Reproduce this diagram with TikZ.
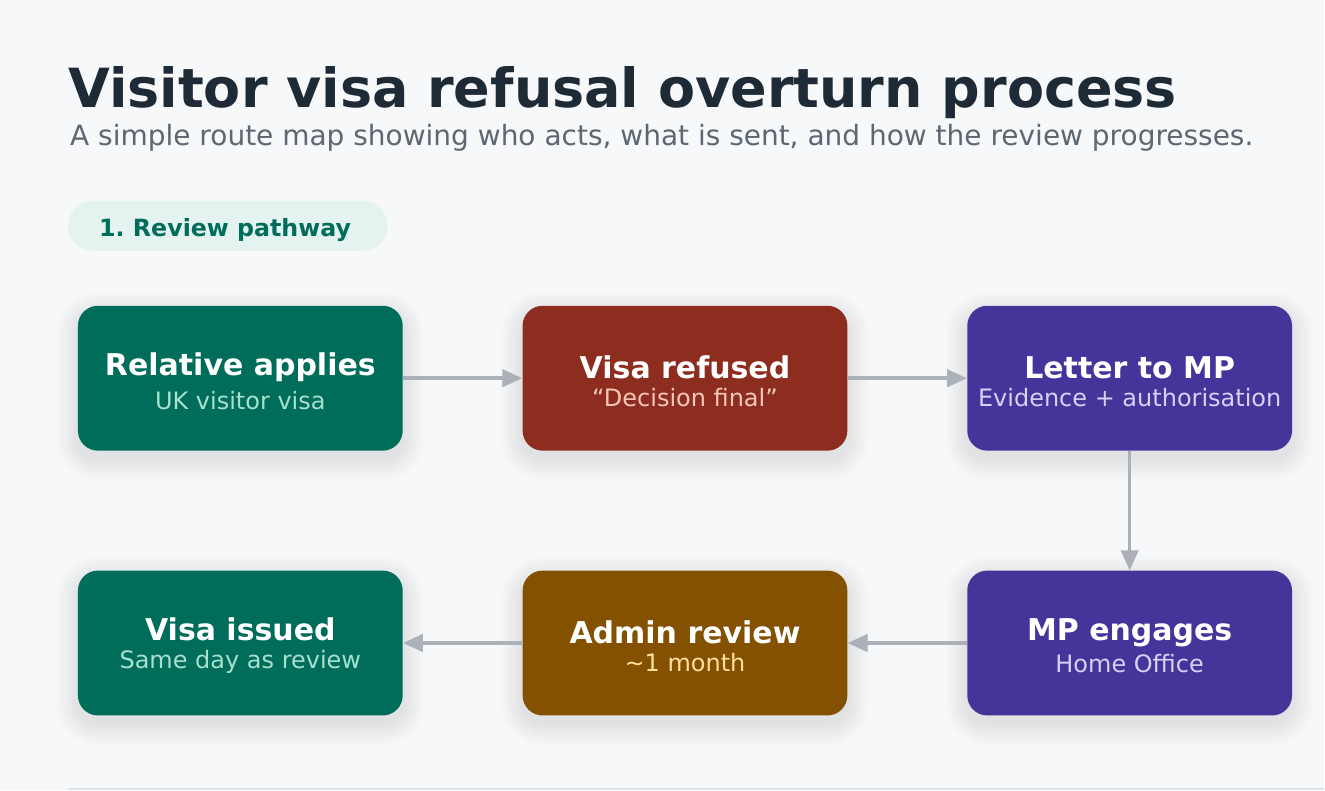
\documentclass[tikz,border=0pt]{standalone}
\usepackage{fontspec}
\setmainfont{DejaVu Sans}
\usetikzlibrary{arrows.meta,calc}
\pgfdeclarelayer{base}
\pgfdeclarelayer{shadow}
\pgfsetlayers{base,shadow,main}
\definecolor{bg}{HTML}{F7F8FA}
\definecolor{titlec}{HTML}{1F2A37}
\definecolor{subc}{HTML}{5C6772}
\definecolor{teal}{HTML}{006D5B}
\definecolor{tealsub}{HTML}{A8E0CF}
\definecolor{redb}{HTML}{8C2D1F}
\definecolor{redsub}{HTML}{F6C7B9}
\definecolor{purp}{HTML}{45349A}
\definecolor{purpsub}{HTML}{D8D1F6}
\definecolor{brown}{HTML}{845100}
\definecolor{brownsub}{HTML}{FFDFA0}
\definecolor{badgebg}{HTML}{E5F3F0}
\definecolor{arrowc}{HTML}{AAB1B8}
\definecolor{linec}{HTML}{DDE3EA}
\tikzset{
  stepbox/.style={rounded corners=20*0.75pt, minimum width=325*0.75pt, minimum height=145*0.75pt, inner sep=0pt},
  boxtitle/.style={anchor=base, text=white, font=\bfseries\fontsize{22.5}{26}\selectfont, inner sep=0pt},
  boxsub/.style={anchor=base, font=\fontsize{18}{21}\selectfont, inner sep=0pt},
  flow/.style={draw=arrowc, line width=2.6pt, -{Triangle[length=15pt,width=13pt]}},
  shadowlayer/.style={fill=black, opacity=0.0055},
}
\begin{document}
\frenchspacing
\begin{tikzpicture}[x=0.75pt,y=-0.75pt]
\begin{pgfonlayer}{base}
\path[fill=bg,use as bounding box] (0,0) rectangle (1325,791);
\end{pgfonlayer}
\node[anchor=base west, inner sep=0pt, text=titlec, font=\bfseries\fontsize{40.5}{46}\selectfont] (title) at (68,108) {Visitor visa refusal overturn process};
\node[anchor=base west, inner sep=0pt, text=subc, font=\fontsize{21}{25}\selectfont] (subtitle) at (70,146) {A simple route map showing who acts, what is sent, and how the review progresses.};
\node[fill=badgebg, rounded corners=25*0.75pt, minimum width=320*0.75pt, minimum height=50*0.75pt, inner sep=0pt] (badge) at (228,226) {};
\node[anchor=base west, inner sep=0pt, text=teal, font=\bfseries\fontsize{17.8}{21}\selectfont] (badgetext) at (99,237) {1. Review pathway};

\node[stepbox, fill=teal] (b1) at (240.5,378.5) {};
\node[stepbox, fill=redb] (b2) at (685.5,378.5) {};
\node[stepbox, fill=purp] (b3) at (1130.5,378.5) {};
\node[stepbox, fill=teal] (b4) at (240.5,643.5) {};
\node[stepbox, fill=brown] (b5) at (685.5,643.5) {};
\node[stepbox, fill=purp] (b6) at (1130.5,643.5) {};

\begin{pgfonlayer}{shadow}
\foreach \n in {b1,b2,b3,b4,b5,b6}{
  \foreach \i in {1,...,22}{
    \fill[shadowlayer, rounded corners=(20+\i)*0.75pt] ($(\n.north west)+(-\i,8-\i)$) rectangle ($(\n.south east)+(\i,8+\i)$);
  }
}
\end{pgfonlayer}

\node[boxtitle] (t1) at (240.5,376) {Relative applies};
\node[boxsub, text=tealsub] (s1) at (240.5,410) {UK visitor visa};
\node[boxtitle] (t2) at (685.5,379) {Visa refused};
\node[boxsub, text=redsub] (s2) at (685.5,407) {“Decision final”};
\node[boxtitle] (t3) at (1130.5,379) {Letter to MP};
\node[boxsub, text=purpsub] (s3) at (1130.5,407) {Evidence + authorisation};
\node[boxtitle] (t4) at (240.5,641) {Visa issued};
\node[boxsub, text=tealsub] (s4) at (240.5,669) {Same day as review};
\node[boxtitle] (t5) at (685.5,644) {Admin review};
\node[boxsub, text=brownsub] (s5) at (685.5,672) {\char"223C 1 month};
\node[boxtitle] (t6) at (1130.5,641) {MP engages};
\node[boxsub, text=purpsub] (s6) at (1130.5,673) {Home Office};

\draw[flow] (b1.east) -- (b2.west);
\draw[flow] (b2.east) -- (b3.west);
\draw[flow] (b3.south) -- (b6.north);
\draw[flow] (b6.west) -- (b5.east);
\draw[flow] (b5.west) -- (b4.east);

\coordinate (l1) at (68,790);
\coordinate (l2) at (1325,790);
\draw[linec, line width=1.5pt] (l1) -- (l2);
\end{tikzpicture}
\end{document}
